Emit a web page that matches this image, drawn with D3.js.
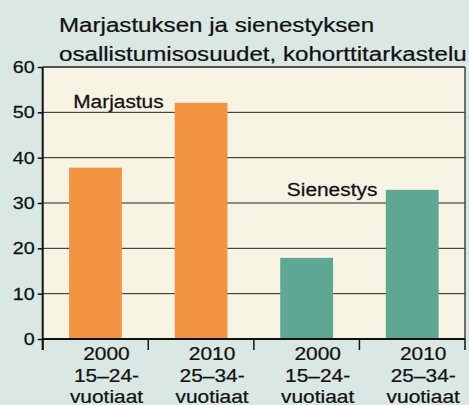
<!DOCTYPE html>
<html>
<head>
<meta charset="utf-8">
<script src="https://cdn.jsdelivr.net/npm/d3@7"></script>
<style>
  body { margin: 0; background: #dae8e3; }
  text { font-family: "Liberation Sans", Arial, sans-serif; fill: #111; stroke: #111; stroke-width: 0.25px; }
</style>
</head>
<body>
<script>
// Chart data
var years = ["2000", "2010", "2000", "2010"];
var ages = ["15–24-", "25–34-", "15–24-", "25–34-"];
var series = ["Marjastus", "Marjastus", "Sienestys", "Sienestys"];
var values = [37.8, 52.1, 17.9, 32.9];
var yTicks = [0, 10, 20, 30, 40, 50, 60];
var titleLines = ["Marjastuksen ja sienestyksen", "osallistumisosuudet, kohorttitarkastelu"];

var svgWidth = 469;
var svgHeight = 405;
var margin = { top: 67, right: 4, bottom: 66, left: 42.7 };
var width = svgWidth - margin.left - margin.right;
var height = svgHeight - margin.top - margin.bottom;

// text in the reference is a bit wider than Arial
var sx = 1.16;

var colors = { Marjastus: "#f29441", Sienestys: "#5ea792" };

var svg = d3.select("body")
  .append("svg")
  .attr("width", svgWidth)
  .attr("height", svgHeight);

svg.append("rect")
  .attr("width", svgWidth)
  .attr("height", svgHeight)
  .attr("fill", "#dae8e3");

var chartGroup = svg.append("g")
  .attr("transform", `translate(${margin.left}, ${margin.top})`);

var idx = d3.range(values.length);

var xScale = d3.scaleBand()
  .domain(idx)
  .range([0, width])
  .paddingInner(0.5)
  .paddingOuter(0.25);

var yScale = d3.scaleLinear()
  .domain([0, 60])
  .range([height, 0]);

// plot background
chartGroup.append("rect")
  .attr("width", width)
  .attr("height", height)
  .attr("fill", "#f8f4e4");

// gridlines
chartGroup.selectAll(".grid")
  .data(yTicks.slice(1, -1))
  .enter()
  .append("line")
  .attr("x1", 0)
  .attr("x2", width)
  .attr("y1", d => yScale(d))
  .attr("y2", d => yScale(d))
  .attr("stroke", "#222")
  .attr("stroke-width", 1);

// bars
chartGroup.selectAll(".bar")
  .data(idx)
  .enter()
  .append("rect")
  .attr("x", i => xScale(i))
  .attr("y", i => yScale(values[i]))
  .attr("width", xScale.bandwidth())
  .attr("height", i => height - yScale(values[i]))
  .attr("fill", i => colors[series[i]]);

// frame top / right
chartGroup.append("line")
  .attr("x1", 0).attr("x2", width)
  .attr("y1", 0).attr("y2", 0)
  .attr("stroke", "#222").attr("stroke-width", 1.5);
chartGroup.append("line")
  .attr("x1", width).attr("x2", width)
  .attr("y1", 0).attr("y2", height)
  .attr("stroke", "#444").attr("stroke-width", 1.5);

// y axis
var leftAxis = d3.axisLeft(yScale)
  .tickValues(yTicks)
  .tickSize(5)
  .tickSizeOuter(0);

var yAxis = chartGroup.append("g").call(leftAxis);
yAxis.select(".domain").remove();
yAxis.selectAll("line").attr("stroke", "#111").attr("stroke-width", 1.5);
yAxis.selectAll("text")
  .attr("x", -8 / sx)
  .attr("transform", `scale(${sx},1)`)
  .attr("font-size", "17px")
  .attr("fill", "#111");

chartGroup.append("line")
  .attr("x1", 0).attr("x2", 0)
  .attr("y1", 0).attr("y2", height + 11)
  .attr("stroke", "#111").attr("stroke-width", 2);

// x axis
chartGroup.append("line")
  .attr("x1", 0).attr("x2", width)
  .attr("y1", height).attr("y2", height)
  .attr("stroke", "#111").attr("stroke-width", 2);

var step = xScale.step();
var bounds = d3.range(values.length + 1).map(i => i * step);
chartGroup.selectAll(".xtick")
  .data(bounds)
  .enter()
  .append("line")
  .attr("x1", d => d).attr("x2", d => d)
  .attr("y1", height).attr("y2", height + 11)
  .attr("stroke", "#111").attr("stroke-width", 1.5);

var xLabels = chartGroup.selectAll(".xlabel")
  .data(idx)
  .enter()
  .append("g")
  .attr("transform", i => `translate(${xScale(i) + xScale.bandwidth() / 2 + 11}, ${height})`);

[years, ages, d3.range(4).map(() => "vuotiaat")].forEach(function(arr, line) {
  xLabels.append("text")
    .attr("transform", `translate(0, ${21 + line * 21.5}) scale(1.1,1)`)
    .attr("text-anchor", "middle")
    .attr("font-size", "19px")
    .text(i => arr[i]);
});

// series labels
chartGroup.append("text")
  .attr("transform", `translate(${bounds[0] + 30.5}, ${yScale(51)}) scale(${sx},1)`)
  .attr("font-size", "18px")
  .text("Marjastus");

chartGroup.append("text")
  .attr("transform", `translate(${bounds[2] + 33}, ${yScale(31.5)}) scale(${sx},1)`)
  .attr("font-size", "18px")
  .text("Sienestys");

// title
svg.selectAll(".title")
  .data(titleLines)
  .enter()
  .append("text")
  .attr("transform", (d, i) => `translate(59, ${32 + i * 29}) scale(1.15,1)`)
  .attr("font-size", "21px")
  .text(d => d);
</script>
</body>
</html>
